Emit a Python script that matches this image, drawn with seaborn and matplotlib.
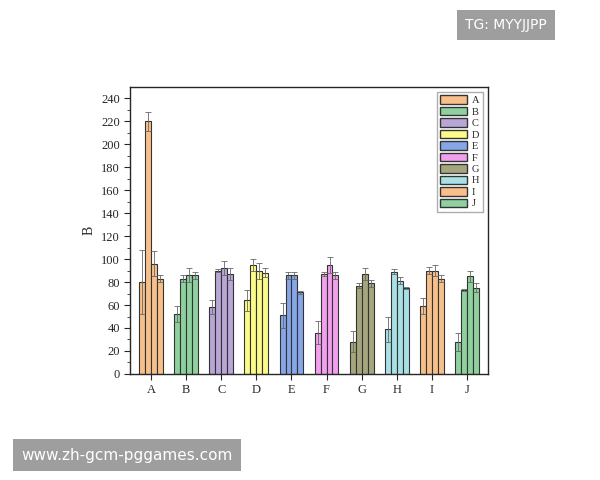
import matplotlib
matplotlib.use("Agg")
import matplotlib.pyplot as plt
import seaborn as sns
import pandas as pd
import numpy as np
from matplotlib.patches import Patch

groups = ["A","B","C","D","E","F","G","H","I","J"]
vals = [[80,220,96,83],[52,83,86,86],[58,90,92,87],[64,95,90,88],[51,86,86,71],
        [36,87,95,86],[28,77,87,79],[39,89,81,75],[59,90,90,83],[28,73,85,75]]
errs = [[28,8,11,3],[7,3,6,3],[6,1,6,5],[9,5,7,4],[11,3,3,1],
        [10,2,7,3],[9,2,5,3],[11,2,3,1],[7,3,5,3],[8,1,5,4]]
colors = ["#F7C08A","#8FD19E","#B8A6D6","#FBFB8A","#86A6E8","#F2A0EE","#A6A67E","#A8E0E6","#F7C08A","#8FD19E"]

sns.set_style("ticks")
plt.rcParams['font.family'] = ['Liberation Serif','DejaVu Serif']

rows = []
for g, vs in zip(groups, vals):
    for i, v in enumerate(vs):
        rows.append({"g": g, "s": str(i), "v": v})
df = pd.DataFrame(rows)

fig = plt.figure(figsize=(6,4.8), dpi=100)
ax = fig.add_axes([0.217, 0.221, 0.596, 0.598])
sns.barplot(data=df, x="g", y="v", hue="s", ax=ax, errorbar=None, width=0.68,
            palette=["#cccccc"]*4, legend=False, edgecolor="#333333", linewidth=0.8)
bar_conts = list(ax.containers)
for si, cont in enumerate(bar_conts):
    for gi, p in enumerate(cont.patches):
        p.set_facecolor(colors[gi])
        cx = p.get_x() + p.get_width()/2
        ax.errorbar(cx, vals[gi][si], yerr=errs[gi][si], color="#666666", lw=0.6, capsize=2, capthick=0.6)

ax.set_ylim(0, 250)
ax.set_yticks(range(0, 241, 20))
ax.set_yticks(range(0, 250, 10), minor=True)
ax.set_xlim(-0.6, 9.6)
ax.set_xlabel("")
ax.set_ylabel("B", fontsize=10)
ax.tick_params(labelsize=9, direction="out", length=4)
ax.tick_params(which="minor", length=2)
for s in ax.spines.values():
    s.set_visible(True); s.set_linewidth(1.0)

handles = [Patch(facecolor=c, edgecolor="#333333", label=g) for g, c in zip(groups, colors)]
ax.legend(handles=handles, loc="upper right", fontsize=7.5, handlelength=2.6, handleheight=0.9,
          labelspacing=0.15, frameon=True, fancybox=False, edgecolor="#999999", borderpad=0.3,
          handletextpad=0.5)

fig.text(0.775, 0.948, "TG: MYYJJPP", fontsize=10, color="white", family="DejaVu Sans",
         ha="left", va="center", bbox=dict(facecolor="#9e9e9e", edgecolor="none", pad=6))
fig.text(0.035, 0.052, "www.zh-gcm-pggames.com", fontsize=11, color="white", family="DejaVu Sans",
         ha="left", va="center", bbox=dict(facecolor="#9e9e9e", edgecolor="none", pad=6))
fig.savefig("out.png", dpi=100)
